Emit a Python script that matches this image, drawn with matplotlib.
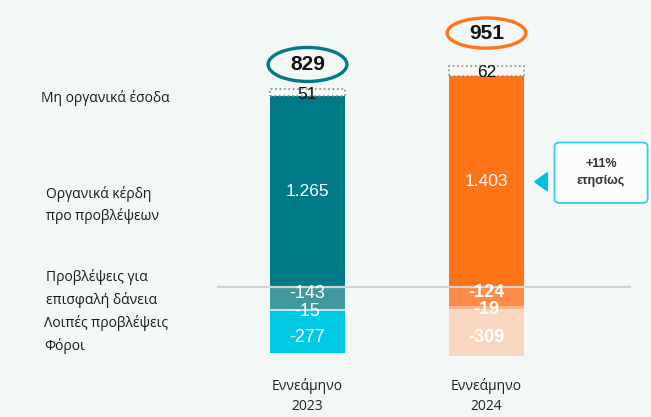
import numpy as np
import matplotlib.pyplot as plt
from matplotlib.patches import Ellipse, FancyBboxPatch, Polygon

plt.rcParams['font.family'] = ['Liberation Sans', 'DejaVu Sans']

periods = ['Εννεάμηνο\n2023', 'Εννεάμηνο\n2024']
totals = [829, 951]
organic = [1265, 1403]
non_organic = [51, 62]
loan_prov = [-143, -124]
other_prov = [-15, -19]
taxes = [-277, -309]
yoy_text = '+11%\nετησίως'

row_labels = ['Μη οργανικά έσοδα', 'Οργανικά κέρδη\nπρο προβλέψεων',
              'Προβλέψεις για\nεπισφαλή δάνεια', 'Λοιπές προβλέψεις\nΦόροι']

bg = '#f3f7f5'
main_col = ['#007a86', '#ff7417']
loan_col = ['#3f999d', '#ff8b47']
other_col = ['#b3e9ef', '#fcb48c']
tax_col = ['#00c9e4', '#f9d6bf']
neg_weight = ['normal', 'bold']
label_font = ['Open Sans', 'DejaVu Sans']

fig = plt.figure(figsize=(6.51, 4.17), dpi=100, facecolor=bg)
ax = fig.add_axes([0, 0, 1, 1])
ax.set_facecolor(bg)
ax.set_xlim(-1.718, 1.919)
ax.set_ylim(-858, 1904)
ax.axis('off')

x = np.arange(len(periods))
w = 0.42

for i in x:
    ax.bar(i, organic[i], w, color=main_col[i], zorder=2)
    ax.bar(i, non_organic[i], w, bottom=organic[i], color='#f7f7f7',
           edgecolor='#8a8a8a', linestyle=':', linewidth=1.2, zorder=2)
    b = 0
    for v, c in [(loan_prov[i], loan_col[i]), (other_prov[i], other_col[i]), (taxes[i], tax_col[i])]:
        ax.bar(i, v, w, bottom=b, color=c, zorder=2)
        b += v

    ax.text(i, organic[i] / 2, f'{organic[i] / 1000:.3f}',
            ha='center', va='center', color='white', fontsize=12.5, zorder=4)
    ax.text(i, organic[i] + non_organic[i] / 2 - 12, str(non_organic[i]),
            ha='center', va='center', color='#111111', fontsize=12.5, zorder=4)

    b1 = loan_prov[i]
    b2 = b1 + other_prov[i]
    ax.text(i, b1 / 2 + 30, str(loan_prov[i]), ha='center', va='center',
            color='white', fontsize=13, fontweight=neg_weight[i], zorder=4)
    ax.text(i, b1 + other_prov[i] / 2 - 12, str(other_prov[i]), ha='center', va='center',
            color='white', fontsize=13, fontweight=neg_weight[i], zorder=4)
    ax.text(i, b2 + taxes[i] / 2 - 35, str(taxes[i]), ha='center', va='center',
            color='white', fontsize=13, fontweight=neg_weight[i], zorder=4)

    ax.text(i, -720, periods[i], ha='center', va='center', fontsize=10,
            color='#222222', linespacing=1.45, family=label_font)

# total ellipses
ell_y = [1477, 1685]
ell_h = [225, 200]
for i in x:
    ax.add_patch(Ellipse((i, ell_y[i]), 0.44, ell_h[i], facecolor='none',
                         edgecolor=main_col[i], linewidth=2.4, zorder=3))
    ax.text(i, ell_y[i], str(totals[i]), ha='center', va='center',
            fontsize=15, fontweight='bold', color='#111111', zorder=4)

# zero line
ax.plot([-0.5, 1.80], [0, 0], color='#d3d3d3', linewidth=1.6, zorder=3)

# left labels
lab_pos = [(-1.49, 1252), (-1.46, 545), (-1.46, -5), (-1.47, -310)]
for (lx, ly), t in zip(lab_pos, row_labels):
    ax.text(lx, ly, t, ha='left', va='center', fontsize=10, color='#1a1a1a',
            linespacing=1.55, family=label_font)

# yoy callout
ax.add_patch(FancyBboxPatch((1.38, 560), 0.52, 400,
                            boxstyle='round,pad=0,rounding_size=0.03',
                            mutation_aspect=900,
                            facecolor='#fbfdfd', edgecolor='#2fd0e6', linewidth=1.3, zorder=3))
ax.add_patch(Polygon([[1.27, 700], [1.34, 640], [1.34, 760]], closed=True,
                     color='#00c0de', zorder=3))
ax.text(1.64, 760, yoy_text, ha='center', va='center', fontsize=9,
        fontweight='bold', color='#333333', linespacing=1.5, zorder=4)

fig.savefig('out.png', dpi=100, facecolor=bg)
